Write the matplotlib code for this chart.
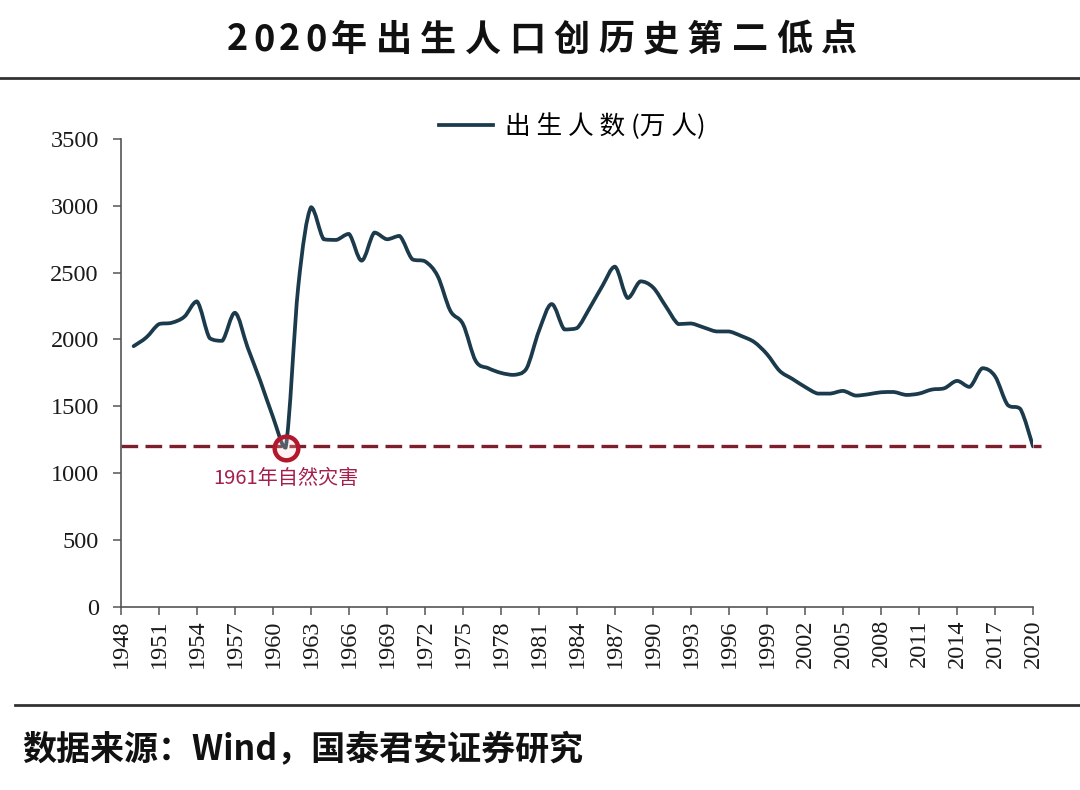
import matplotlib as mpl
import matplotlib.pyplot as plt
from matplotlib.path import Path
from matplotlib.patches import PathPatch
from matplotlib.lines import Line2D

plt.rcParams['font.family'] = ['Noto Sans CJK SC', 'DejaVu Sans']
mpl.rcParams['axes.linewidth'] = 1.2

title = '2020年出生人口创历史第二低点'
series_label = '出 生 人 数 (万 人)'
source = '数据来源：Wind，国泰君安证券研究'
note = '1961年自然灾害'

years = list(range(1949, 2021))
births = [1950, 2015, 2115, 2125, 2170, 2285, 2010, 1990, 2200, 1940,
          1690, 1420, 1190, 2400, 2990, 2750, 2745, 2790, 2590, 2800,
          2750, 2775, 2600, 2585, 2475, 2215, 2115, 1840, 1785, 1750,
          1735, 1780, 2065, 2265, 2075, 2085, 2235, 2400, 2545, 2310,
          2435, 2390, 2250, 2115, 2120, 2090, 2060, 2060, 2025, 1980,
          1890, 1765, 1705, 1645, 1595, 1595, 1615, 1580, 1590, 1605,
          1607, 1585, 1595, 1625, 1635, 1690, 1645, 1785, 1725, 1510,
          1480, 1200]
tick_years = list(range(1948, 2021, 3))
y_ticks = [0, 500, 1000, 1500, 2000, 2500, 3000, 3500]

line_color = '#1b3a4b'
red_dash = '#7d1f2c'
ring_red = '#b3172b'
note_color = '#a3204a'

fig = plt.figure(figsize=(10.8, 7.9), dpi=100)
ax = fig.add_axes([0.112, 0.232, 0.8445, 0.592])


def smooth_path(xs, ys):
    # Catmull-Rom style Bezier curve, control points kept inside each
    # segment's range so the curve never overshoots a value
    verts = [(xs[0], ys[0])]
    codes = [Path.MOVETO]
    n = len(xs)
    for i in range(n - 1):
        x0, y0 = xs[max(i - 1, 0)], ys[max(i - 1, 0)]
        x1, y1 = xs[i], ys[i]
        x2, y2 = xs[i + 1], ys[i + 1]
        x3, y3 = xs[min(i + 2, n - 1)], ys[min(i + 2, n - 1)]
        lo, hi = min(y1, y2), max(y1, y2)
        c1 = min(max(y1 + (y2 - y0) / 6, lo), hi)
        c2 = min(max(y2 - (y3 - y1) / 6, lo), hi)
        verts += [(x1 + (x2 - x0) / 6, c1), (x2 - (x3 - x1) / 6, c2),
                  (x2, y2)]
        codes += [Path.CURVE4] * 3
    return Path(verts, codes)


ax.add_patch(PathPatch(smooth_path(years, births), facecolor='none',
                       edgecolor=line_color, lw=2.7, joinstyle='round',
                       capstyle='round', zorder=3))

# reference line at the 2020 level
low = births[-1]
ax.plot([1948, 2020.6], [low, low], color=red_dash, lw=2.4,
        dashes=(5, 2.2), clip_on=False, zorder=2)

i61 = years.index(1961)
ax.plot(years[i61], births[i61], 'o', ms=17, mfc=(1, 0.8, 0.8, 0.25),
        mec=ring_red, mew=3.2, zorder=4)
ax.text(years[i61], births[i61] - 150, note, color=note_color, fontsize=14.5,
        ha='center', va='top', fontweight='medium')

ax.set_xlim(1948, 2020)
ax.set_ylim(0, 3500)
ax.set_xticks(tick_years)
ax.set_xticklabels([str(y) for y in tick_years], rotation=90,
                   family='Liberation Serif', fontsize=17.5)
ax.set_yticks(y_ticks)
ax.set_yticklabels([str(v) for v in y_ticks], family='Liberation Serif',
                   fontsize=17.5)
ax.tick_params(axis='both', direction='out', length=6, width=1.1,
               color='#555555', labelcolor='#1a1a1a')
ax.tick_params(axis='y', pad=10)
ax.tick_params(axis='x', pad=3)
for s in ['top', 'right']:
    ax.spines[s].set_visible(False)
for s in ['left', 'bottom']:
    ax.spines[s].set_color('#555555')

handle = Line2D([], [], color=line_color, lw=2.7)
ax.legend([handle], [series_label], loc='center',
          bbox_to_anchor=(0.530, 0.840), bbox_transform=fig.transFigure,
          frameon=False, fontsize=18.5, handlelength=2.1, handletextpad=0.5)

# title with wide letter spacing, one glyph at a time
x = 227
for ch in title:
    fig.text(x / 1080, 1 - 40 / 790, ch, fontsize=26, fontweight='bold',
             ha='left', va='center', color='#111111')
    x += 26 if ch.isdigit() else 44.5

fig.add_artist(plt.Line2D([0, 1], [1 - 78 / 790] * 2, color='#333333', lw=2))
fig.add_artist(plt.Line2D([15 / 1080, 1], [1 - 705 / 790] * 2,
                          color='#333333', lw=2))
fig.text(22 / 1080, 1 - 750 / 790, source, fontsize=24.5, fontweight='bold',
         ha='left', va='center', color='#111111')

fig.savefig('out.png', dpi=100)
